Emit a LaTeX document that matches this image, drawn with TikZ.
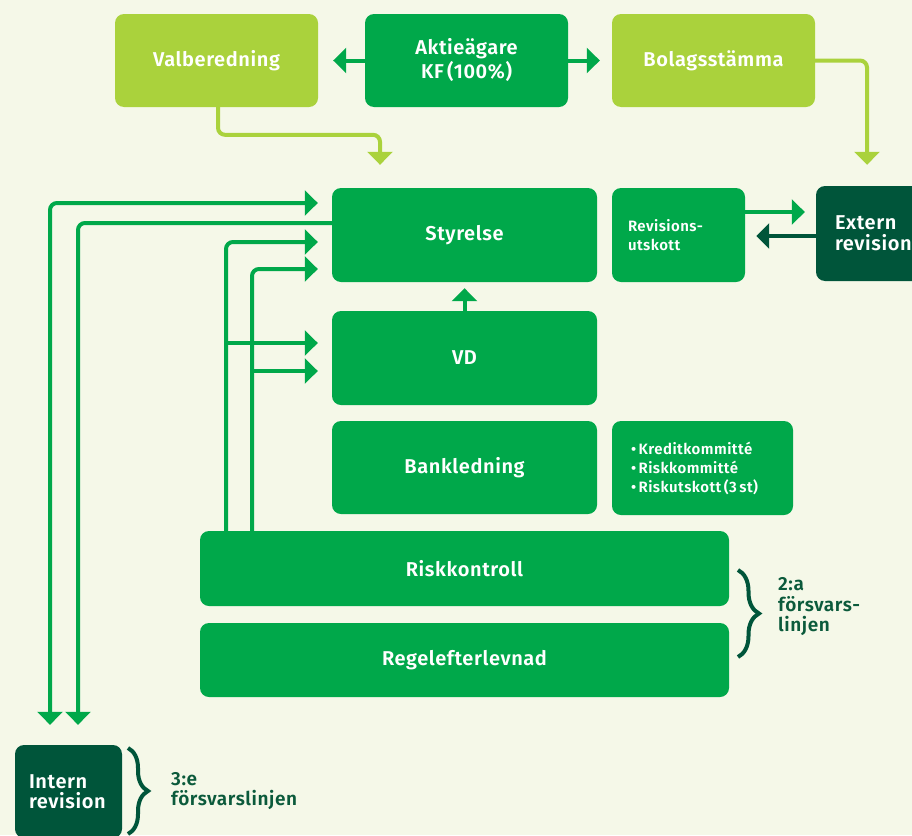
\documentclass[tikz,border=0pt]{standalone}
\usepackage{fontspec}
\IfFontExistsTF{Fira Sans SemiBold}
  {\setmainfont{Fira Sans}[BoldFont={Fira Sans SemiBold}, LetterSpace=3]}
  {\setmainfont{Fira Sans}[LetterSpace=3]}
\usetikzlibrary{arrows.meta,decorations.pathreplacing,calc}
\definecolor{bgc}{HTML}{F5F8E8}
\definecolor{lgreen}{HTML}{AAD23C}
\definecolor{mgreen}{HTML}{00A84A}
\definecolor{dgreen}{HTML}{00553A}
\definecolor{ltext}{HTML}{0B5A3B}
\begin{document}
\begin{tikzpicture}[x=1pt,y=-1pt,
  base/.style={rounded corners=9pt, text=white, align=center, inner sep=0pt,
    font=\bfseries\fontsize{20}{24}\selectfont},
  light/.style={base, fill=lgreen},
  mid/.style={base, fill=mgreen},
  dark/.style={base, fill=dgreen},
  small/.style={font=\bfseries\fontsize{15}{18.5}\selectfont},
  lbl/.style={text=ltext, align=left, inner sep=0pt, anchor=west,
    font=\bfseries\fontsize{19}{20.5}\selectfont},
  tipA/.tip={Triangle[width=25pt,length=13pt]},
  conn/.style={line width=4pt, rounded corners=7pt, -tipA},
  mconn/.style={conn, draw=mgreen},
  lconn/.style={conn, draw=lgreen},
  dconn/.style={conn, draw=dgreen},
  bracestyle/.style={draw=dgreen, line width=4pt, decorate,
    decoration={brace, amplitude=#1}}
]
\useasboundingbox (0,0) rectangle (912,835);
\fill[bgc] (0,0) rectangle (912,835);
\clip (0,0) rectangle (912,835);

% boxes
\node[light, minimum width=203pt, minimum height=93pt] (valb) at (216.5,60.5) {Valberedning};
\node[mid, minimum width=203pt, minimum height=93pt] (akt) at (466.5,60.5) {Aktieägare\\KF\,(100\%)};
\node[light, minimum width=203pt, minimum height=93pt] (bolag) at (713.5,60.5) {Bolagsstämma};

\node[mid, minimum width=265pt, minimum height=94pt] (styr) at (464.5,235) {Styrelse};
\node[mid, small, align=left, text width=101pt, inner xsep=16pt, minimum height=94pt] (revu) at (678.5,235) {Revisions-\\utskott};
\node[dark, align=left, text width=96pt, inner xsep=19pt, minimum height=95pt,
  font=\bfseries\fontsize{20}{21}\selectfont] (ext) at (883,233.5) {Extern\\revision};

\node[mid, minimum width=265pt, minimum height=94pt] (vd) at (464.5,358) {VD};
\node[mid, minimum width=265pt, minimum height=93pt] (bank) at (464.5,467.5) {Bankledning};
\node[mid, small, align=left, text width=143pt, inner xsep=19pt, minimum height=94pt,
  font=\bfseries\fontsize{15}{19}\selectfont] (list) at (702.5,468)
  {•\,Kreditkommitté\\•\,Riskkommitté\\•\,Riskutskott\,(3\,st)};

\node[mid, minimum width=529pt, minimum height=75pt] (risk) at (464.5,568.5) {Riskkontroll};
\node[mid, minimum width=529pt, minimum height=74pt] (regel) at (464.5,660) {Regelefterlevnad};

\node[dark, align=left, text width=79pt, inner xsep=14pt, minimum height=93pt,
  font=\bfseries\fontsize{20}{20.5}\selectfont] (intern) at (68.5,791.5) {Intern\\revision};

% labels and braces
\node[lbl] (l2) at (778,607) {2:a\\försvars-\\linjen};
\node[lbl] (l3) at (171,791) {3:e\\försvarslinjen};
\draw[bracestyle=21pt] (738,570) -- (738,657);
\draw[bracestyle=20pt] (128,748) -- (128,834);

% top connectors
\draw[mconn, shorten >=15pt] (akt.west) -- (valb.east);
\draw[mconn, shorten >=12pt] (akt.east) -- (bolag.west);
\coordinate (vbend) at ([xshift=-84.5pt,yshift=53pt]styr.north);
\coordinate (vend) at ([xshift=-84.5pt]styr.north);
\draw[lconn, shorten >=23pt] ([xshift=1.5pt]valb.south) |- (vbend) -- (vend);
\draw[lconn, shorten >=21pt] (bolag.east) -| ([xshift=-16pt]ext.north);

% revisionsutskott <-> extern revision
\coordinate (r1) at ([yshift=23pt]revu.east);
\draw[mconn, shorten >=11pt] (r1) -- (r1 -| ext.west);
\coordinate (e1) at ([yshift=-2.5pt]ext.west);
\draw[dconn, shorten >=11pt] (e1) -- (e1 -| revu.east);

% VD -> Styrelse
\draw[mconn, shorten >=6pt] (vd.north) -- (styr.south);

% Intern revision lines
\draw[mconn, tipA-tipA, shorten <=20pt, shorten >=14pt] ([xshift=-18.5pt]intern.north) |- ([yshift=32pt]styr.west);
\draw[mconn, shorten >=20pt] ([yshift=12pt]styr.west) -| ([xshift=9.5pt]intern.north);

% Riskkontroll lines
\coordinate (cC) at ([xshift=-238.5pt]risk.north);
\coordinate (cD) at ([xshift=-212.5pt]risk.north);
\coordinate (vdA) at ([yshift=15pt]vd.west);
\coordinate (vdB) at ([yshift=-13pt]vd.west);
\draw[mconn, shorten >=14pt] (cC) |- ([yshift=-7pt]styr.west);
\draw[mconn, shorten >=14pt] (cD) |- ([yshift=-34pt]styr.west);
\draw[mconn, shorten >=14pt] (cC |- vdA) -- (vdA);
\draw[mconn, shorten >=14pt] (cD |- vdB) -- (vdB);
\end{tikzpicture}
\end{document}
